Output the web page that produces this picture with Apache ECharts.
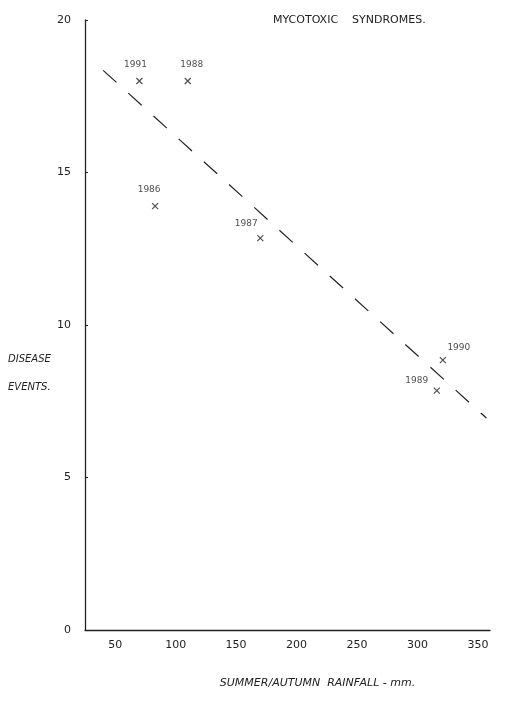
<!DOCTYPE html>
<html>
<head>
<meta charset="utf-8">
<script src="https://cdn.jsdelivr.net/npm/echarts@6/dist/echarts.min.js"></script>
<style>html,body{margin:0;padding:0;background:#fff}#chart{width:508px;height:705px}</style>
</head>
<body>
<div id="chart"></div>
<script>
var years = ['1991', '1988', '1986', '1987', '1990', '1989'];
var rainfall = [70, 110, 83, 170, 321, 316];
var events = [18.0, 18.0, 13.9, 12.85, 8.85, 7.85];
var trendX = [40, 357];
var trendY = [18.35, 6.95];
var xTicks = [50, 100, 150, 200, 250, 300, 350];

var chart = echarts.init(document.getElementById('chart'));
var ink = '#222';
var font = 'DejaVu Sans';
var labelPos = {'1991': [-4, -16], '1988': [4, -16], '1986': [-6, -16], '1987': [-14, -14], '1990': [16, -12], '1989': [-20, -10]};

chart.setOption({
    animation: false,
    title: {
        text: 'MYCOTOXIC    SYNDROMES.',
        left: 268, top: 10,
        textStyle: {fontFamily: font, fontSize: 11, fontWeight: 'normal', color: ink}
    },
    grid: {left: 85, right: 18, top: 20, bottom: 75},
    xAxis: {
        type: 'value', min: 25, max: 360,
        axisLine: {lineStyle: {color: ink, width: 1.3}},
        axisTick: {show: false},
        splitLine: {show: false},
        axisLabel: {
            color: ink, fontFamily: font, fontSize: 11, margin: 10,
            customValues: xTicks
        },
        name: 'SUMMER/AUTUMN  RAINFALL - mm.',
        nameLocation: 'middle', nameGap: 48,
        nameTextStyle: {color: ink, fontFamily: font, fontSize: 11, fontStyle: 'italic', padding: [0, 0, 0, 60]}
    },
    yAxis: {
        type: 'value', min: 0, max: 20, interval: 5,
        axisLine: {show: true, lineStyle: {color: ink, width: 1.3}},
        axisTick: {show: true, inside: true, length: 3, lineStyle: {color: ink}},
        splitLine: {show: false},
        axisLabel: {color: ink, fontFamily: font, fontSize: 11, margin: 14}
    },
    graphic: [{
        type: 'text', left: 8, top: 345,
        style: {text: 'DISEASE\nEVENTS.', fill: ink, font: 'italic 10px DejaVu Sans', lineHeight: 28}
    }],
    series: [{
        type: 'line',
        data: [[trendX[0], trendY[0]], [trendX[1], trendY[1]]],
        symbol: 'none',
        lineStyle: {color: ink, width: 1.2, type: [18, 16]}
    }, {
        type: 'scatter',
        data: rainfall.map(function (x, i) { return [x, events[i], years[i]]; }),
        symbol: 'path://M0,0L10,10M10,0L0,10',
        symbolSize: 6,
        itemStyle: {color: 'none', borderColor: ink, borderWidth: 1.2},
        label: {
            show: true,
            formatter: function (p) { return p.value[2]; },
            color: ink, fontFamily: font, fontSize: 9,
            position: 'inside'
        },
        labelLayout: function (p) {
            var o = labelPos[years[p.dataIndex]];
            return {dx: o[0], dy: o[1]};
        }
    }]
});
</script>
</body>
</html>
